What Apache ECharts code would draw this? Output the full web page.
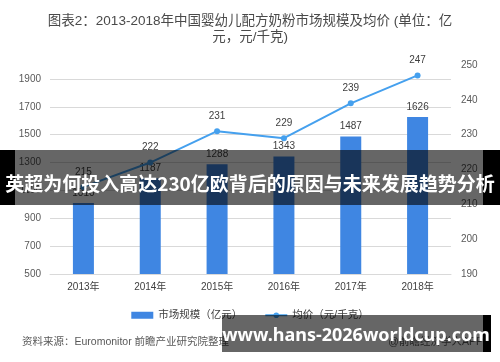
<!DOCTYPE html>
<html>
<head>
<meta charset="utf-8">
<script src="https://cdn.jsdelivr.net/npm/echarts@6/dist/echarts.min.js"></script>
<style>html,body{margin:0;padding:0;background:#fff}#c{width:500px;height:362px}</style>
</head>
<body>
<div id="c"></div>
<script>
var years = ['2013年', '2014年', '2015年', '2016年', '2017年', '2018年'];
var marketSize = [1010, 1187, 1288, 1343, 1487, 1626];
var avgPrice = [215, 222, 231, 229, 239, 247];
var leftAxis = { min: 500, max: 2000, step: 200, lastLabel: 1900 };
var rightAxis = { min: 190, max: 250, step: 10 };
var seriesNames = ['市场规模（亿元）', '均价（元/千克）'];
var titleText = '图表2：2013-2018年中国婴幼儿配方奶粉市场规模及均价 (单位：亿\n元，元/千克)';
var sourceText = '资料来源：Euromonitor 前瞻产业研究院整理';
var appText = '@前瞻经济学人APP';
var bandText = '英超为何投入高达230亿欧背后的原因与未来发展趋势分析';
var bannerText = 'www.hans-2026worldcup.com';

var chart = echarts.init(document.getElementById('c'), null, { renderer: 'canvas' });
var font = 'Liberation Sans, Noto Sans CJK SC, sans-serif';
chart.setOption({
  animation: false,
  backgroundColor: '#fff',
  textStyle: { fontFamily: font },
  title: {
    text: titleText, left: 'center', top: 8,
    textStyle: { fontSize: 13.5, lineHeight: 16, color: '#4a4a4a', fontWeight: 'normal', fontFamily: font }
  },
  legend: {
    top: 305, left: 'center', itemWidth: 22, itemHeight: 7, itemGap: 22,
    textStyle: { fontSize: 10.5, color: '#404040' },
    data: [{ name: seriesNames[0], icon: 'rect' }, { name: seriesNames[1] }]
  },
  grid: { left: 50, right: 49, top: 65, bottom: 88 },
  xAxis: {
    type: 'category', data: years,
    axisLine: { lineStyle: { color: '#d9d9d9' } },
    axisTick: { show: false },
    axisLabel: { fontSize: 10, color: '#404040', margin: 8 }
  },
  yAxis: [{
    type: 'value', min: leftAxis.min, max: leftAxis.max, interval: leftAxis.step,
    axisLine: { show: false }, axisTick: { show: false },
    axisLabel: { fontSize: 10, color: '#595959', margin: 9, showMaxLabel: false,
      formatter: function (v) { return v > leftAxis.lastLabel ? '' : String(v); } },
    splitLine: { show: true, showMaxLine: false,
      lineStyle: { color: ['#d9d9d9','#d9d9d9','#d9d9d9','#d9d9d9','#d9d9d9','#d9d9d9','#d9d9d9','#d9d9d9','rgba(0,0,0,0)'] } }
  }, {
    type: 'value', min: rightAxis.min, max: rightAxis.max, interval: rightAxis.step,
    axisLine: { show: false }, axisTick: { show: false },
    axisLabel: { fontSize: 10, color: '#595959', margin: 10 },
    splitLine: { show: false }
  }],
  series: [{
    name: seriesNames[0], type: 'bar', data: marketSize, barWidth: 21,
    itemStyle: { color: '#3f86e2' },
    label: { show: true, position: 'top', distance: 5, fontSize: 10, color: '#404040' }
  }, {
    name: seriesNames[1], type: 'line', yAxisIndex: 1, data: avgPrice,
    symbol: 'circle', symbolSize: 6,
    lineStyle: { color: '#45a0ee', width: 2 },
    itemStyle: { color: '#45a0ee' },
    label: { show: true, position: 'top', distance: 7, fontSize: 10, color: '#404040' }
  }],
  graphic: [
    { type: 'text', left: 22, top: 337, z: 100, style: { text: sourceText, fontSize: 10.5, fill: '#595959', fontFamily: font } },
    { type: 'text', right: 17, top: 337, z: 100, style: { text: appText, fontSize: 10.5, fill: '#595959', fontFamily: font } },
    { type: 'rect', z: 110, shape: { x: 15, y: 150, width: 468, height: 55 }, style: { fill: 'rgba(0,0,0,0.6)' } },
    { type: 'rect', z: 110, shape: { x: 0, y: 150, width: 15, height: 55 }, style: { fill: '#000' } },
    { type: 'rect', z: 110, shape: { x: 483, y: 150, width: 17, height: 55 }, style: { fill: '#000' } },
    { type: 'text', z: 120, x: 250, y: 184, style: { text: bandText, align: 'center', verticalAlign: 'middle', fontSize: 19, fontWeight: 'bold', fill: '#fff', fontFamily: 'Noto Sans CJK SC, sans-serif' } },
    { type: 'rect', z: 110, shape: { x: 222, y: 315, width: 261, height: 37 }, style: { fill: 'rgba(0,0,0,0.6)' } },
    { type: 'rect', z: 110, shape: { x: 483, y: 315, width: 8, height: 37 }, style: { fill: '#000' } },
    { type: 'text', z: 120, x: 356, y: 336, style: { text: bannerText, align: 'center', verticalAlign: 'middle', fontSize: 18, fontWeight: 'bold', fill: '#fff', fontFamily: 'Noto Sans, sans-serif' } }
  ]
});
</script>
</body>
</html>
